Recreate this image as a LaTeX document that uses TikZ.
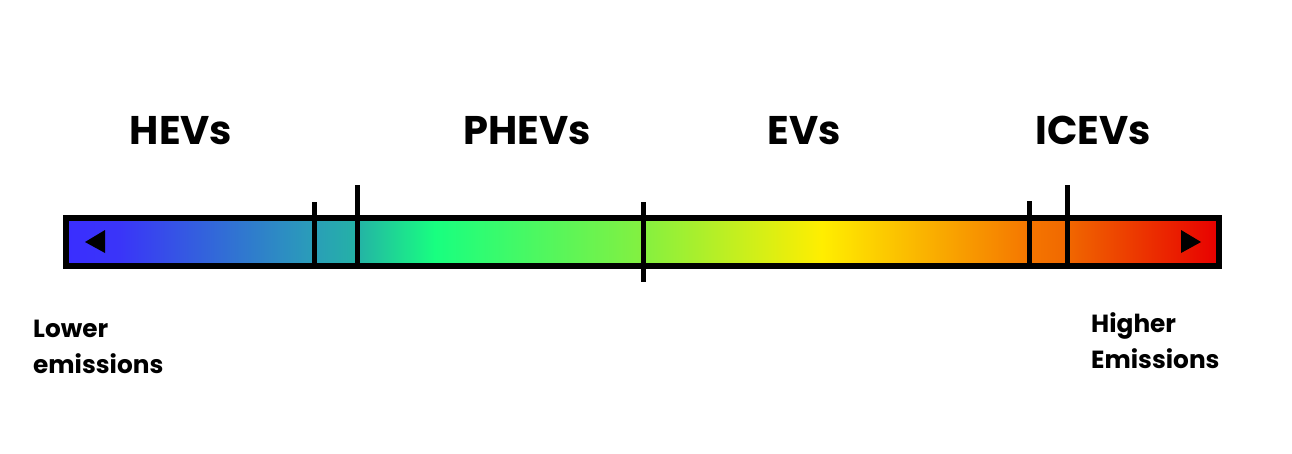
\documentclass[tikz,border=0pt]{standalone}
\usepackage{fontspec}
\setmainfont{Poppins}
\definecolor{g0}{HTML}{3A2EFF}
\definecolor{g1}{HTML}{3A35F8}
\definecolor{g2}{HTML}{2A9EB8}
\definecolor{g3}{HTML}{24B2A6}
\definecolor{g4}{HTML}{18FF80}
\definecolor{g5}{HTML}{84F040}
\definecolor{g6}{HTML}{FFEE00}
\definecolor{g7}{HTML}{F57600}
\definecolor{g7b}{HTML}{F06800}
\definecolor{g8}{HTML}{E80000}
\tikzset{
  big/.style={font=\fontsize{40}{46}\selectfont\bfseries, anchor=base, inner sep=0},
  small/.style={font=\fontsize{24.8}{35.5}\selectfont\bfseries, inner sep=0, align=left},
  tick/.style={line width=5pt},
  tri/.style={fill=black}
}
\begin{document}
\begin{tikzpicture}[x=1pt,y=-1pt]
\useasboundingbox (0,0) rectangle (1292,453);
% gradient fill
\shade[left color=g0,right color=g1] (68,220) rectangle (120,263);
\shade[left color=g1,right color=g2] (119.5,220) rectangle (314,263);
\shade[left color=g2,right color=g3] (313.5,220) rectangle (357,263);
\shade[left color=g3,right color=g4] (356.5,220) rectangle (435,263);
\shade[left color=g4,right color=g5] (434.5,220) rectangle (643,263);
\shade[left color=g5,right color=g6] (642.5,220) rectangle (822,263);
\shade[left color=g6,right color=g7] (821.5,220) rectangle (1029,263);
\shade[left color=g7,right color=g7b] (1028.5,220) rectangle (1067,263);
\shade[left color=g7b,right color=g8] (1066.5,220) rectangle (1218,263);
% bar outline
\node (bar) [draw, line width=6pt, minimum width=1153pt, minimum height=47.5pt, inner sep=0] at (642.5,241.75) {};
% ticks
\draw[tick] (314,202) -- (314,263);
\draw[tick] (357,185) -- (357,263);
\draw[tick] (643,202) -- (643,282);
\draw[tick] (1029,201) -- (1029,263);
\draw[tick] (1067,185) -- (1067,263);
% triangles
\fill[tri] (85,242) -- (105,230) -- (105,253) -- cycle;
\fill[tri] (1201,242) -- (1181,230) -- (1181,253) -- cycle;
% labels
\node[big] (hev) at (181,144) {HEVs};
\node[big] (phev) at (527,144) {PHEVs};
\node[big] (ev) at (804,144) {EVs};
\node[big] (icev) at (1093,144) {ICEVs};
\node[small, anchor=base west] (low) at (33,373) {Lower\\emissions};
\node[small, anchor=base west] (high) at (1091,368) {Higher\\Emissions};
\end{tikzpicture}
\end{document}
